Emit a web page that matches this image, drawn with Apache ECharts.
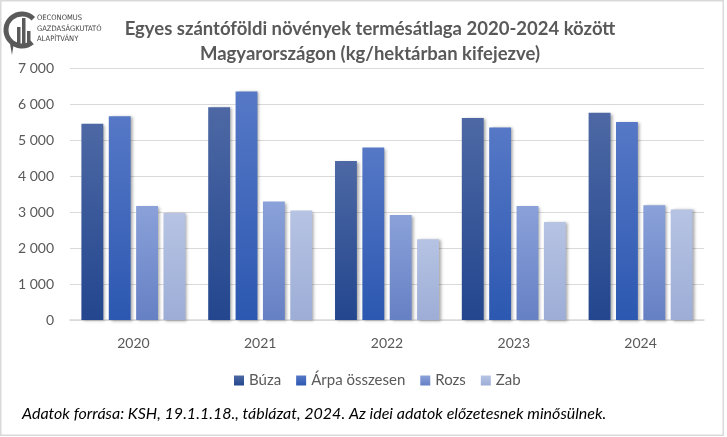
<!DOCTYPE html>
<html>
<head>
<meta charset="utf-8">
<script src="https://cdn.jsdelivr.net/npm/echarts@6/dist/echarts.min.js"></script>
<style>
html,body{margin:0;padding:0;background:#fff;}
#c{width:727px;height:437px;}
</style>
</head>
<body>
<div id="c"></div>
<script>
const categories = ['2020', '2021', '2022', '2023', '2024'];
const seriesNames = ['Búza', 'Árpa összesen', 'Rozs', 'Zab'];
const buza = [5450, 5910, 4420, 5610, 5760];
const arpa = [5660, 6350, 4790, 5350, 5500];
const rozs = [3170, 3290, 2920, 3170, 3190];
const zab = [2970, 3040, 2240, 2720, 3070];
const yTicks = [0, 1000, 2000, 3000, 4000, 5000, 6000, 7000];

const values = [buza, arpa, rozs, zab];
const gradients = [
  ['#4d68a4', '#23468e'],
  ['#5678c6', '#2c58b1'],
  ['#8aa1d9', '#6680c4'],
  ['#b6c3e3', '#9dadd6']
];
const font = 'Lato, "Open Sans", sans-serif';

const chart = echarts.init(document.getElementById('c'), null, {renderer: 'canvas'});
const option = {
  backgroundColor: '#fff',
  animation: false,
  title: {
    text: 'Egyes szántóföldi növények termésátlaga 2020-2024 között\nMagyarországon (kg/hektárban kifejezve)',
    left: 365,
    textAlign: 'center',
    top: 12,
    textStyle: {
      fontFamily: font, fontSize: 18.5, fontWeight: 'bold', color: '#595959', lineHeight: 25
    }
  },
  legend: {
    data: seriesNames,
    top: 368,
    left: 229,
    itemWidth: 10,
    itemHeight: 10,
    itemGap: 15,
    icon: 'rect',
    textStyle: {fontFamily: font, fontSize: 15, color: '#595959'}
  },
  grid: {left: 70, right: 23, top: 68, bottom: 117},
  xAxis: {
    type: 'category',
    data: categories,
    axisLine: {lineStyle: {color: '#d9d9d9', width: 1.5}},
    axisTick: {show: false},
    axisLabel: {fontFamily: font, fontSize: 14, color: '#595959', margin: 16}
  },
  yAxis: {
    type: 'value',
    min: yTicks[0],
    max: yTicks[yTicks.length - 1],
    interval: 1000,
    axisLine: {show: false},
    axisTick: {show: false},
    splitLine: {lineStyle: {color: '#d9d9d9', width: 1.2}},
    axisLabel: {
      fontFamily: font, fontSize: 14, color: '#595959', margin: 16,
      formatter: v => String(v).replace(/\B(?=(\d{3})+(?!\d))/g, ' ')
    }
  },
  series: seriesNames.map((name, i) => ({
    name: name,
    type: 'bar',
    data: values[i],
    barGap: '25%',
    barCategoryGap: '18%',
    itemStyle: {
      color: new echarts.graphic.LinearGradient(0, 0, 0, 1, [
        {offset: 0, color: gradients[i][0]},
        {offset: 1, color: gradients[i][1]}
      ]),
      shadowColor: 'rgba(0,0,0,0.35)',
      shadowBlur: 3,
      shadowOffsetX: 2,
      shadowOffsetY: 1
    }
  })),
  graphic: [
    {type: 'rect', shape: {x: 0.75, y: 0.75, width: 722.5, height: 434.5}, style: {fill: 'none', stroke: '#d9d9d9', lineWidth: 1.5}, z: 100},
    // logo
    {type: 'arc', shape: {cx: 22, cy: 30, r: 16, startAngle: Math.PI * 0.28, endAngle: Math.PI * 1.75, clockwise: true}, style: {stroke: '#5a5a5a', lineWidth: 5, fill: 'none'}},
    {type: 'polygon', shape: {points: [[9, 38], [14, 42], [12, 55]]}, style: {fill: '#5a5a5a'}},
    {type: 'rect', shape: {x: 17, y: 27, width: 3.5, height: 17}, style: {fill: '#5a5a5a'}},
    {type: 'rect', shape: {x: 22, y: 18, width: 3.5, height: 26}, style: {fill: '#5a5a5a'}},
    {type: 'rect', shape: {x: 27, y: 31, width: 3.5, height: 13}, style: {fill: '#5a5a5a'}},
    {type: 'text', left: 37, top: 14, style: {text: 'OECONOMUS', font: '7.5px "Liberation Sans Narrow", "DejaVu Sans Condensed", sans-serif', fill: '#444'}},
    {type: 'text', left: 37, top: 25, style: {text: 'GAZDASÁGKUTATÓ', font: '7.5px "Liberation Sans Narrow", "DejaVu Sans Condensed", sans-serif', fill: '#444'}},
    {type: 'text', left: 37, top: 35, style: {text: 'ALAPÍTVÁNY', font: '7.5px "Liberation Sans Narrow", "DejaVu Sans Condensed", sans-serif', fill: '#444'}},
    {type: 'text', left: 22, top: 406, style: {text: 'Adatok forrása: KSH, 19.1.1.18., táblázat, 2024. Az idei adatok előzetesnek minősülnek.', font: 'italic 16px Lato, "Open Sans", sans-serif', fill: '#000'}}
  ]
};
chart.setOption(option);
</script>
</body>
</html>
